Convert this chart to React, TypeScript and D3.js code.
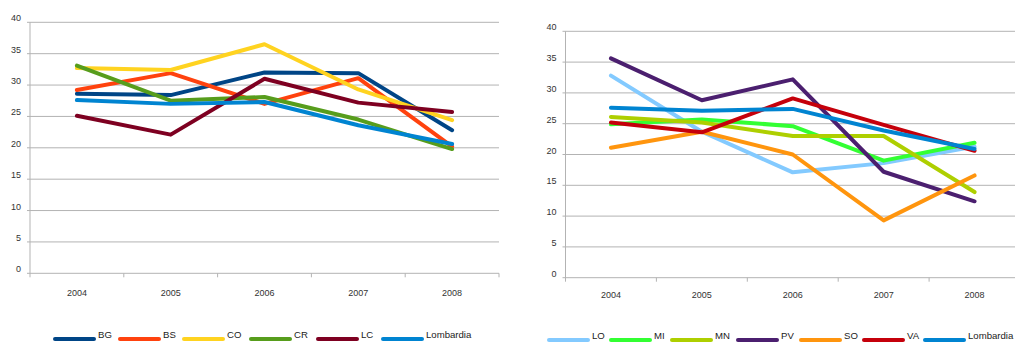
import React from 'react';
import * as d3 from 'd3';

const years = ['2004', '2005', '2006', '2007', '2008'];
const yTicks = [0, 5, 10, 15, 20, 25, 30, 35, 40];

// left panel: provinces of first group
const leftNames = ['BG', 'BS', 'CO', 'CR', 'LC', 'Lombardia'];
const leftColors = ['#004586', '#ff420e', '#ffd320', '#579d1c', '#7e0021', '#0084d1'];
const leftValues = [
  [28.6, 28.4, 32.0, 31.9, 22.8],
  [29.2, 31.9, 27.0, 31.1, 20.2],
  [32.7, 32.4, 36.5, 29.3, 24.4],
  [33.1, 27.5, 28.1, 24.5, 19.8],
  [25.1, 22.1, 31.0, 27.2, 25.7],
  [27.6, 27.0, 27.3, 23.6, 20.6],
];

// right panel: provinces of second group
const rightNames = ['LO', 'MI', 'MN', 'PV', 'SO', 'VA', 'Lombardia'];
const rightColors = ['#83caff', '#33ff33', '#aecf00', '#4b1f6f', '#ff950e', '#c5000b', '#0084d1'];
const rightValues = [
  [32.8, 23.7, 17.1, 18.6, 21.3],
  [24.9, 25.7, 24.6, 19.0, 21.9],
  [26.1, 25.2, 23.0, 23.0, 13.9],
  [35.6, 28.8, 32.2, 17.2, 12.4],
  [21.1, 23.7, 20.0, 9.3, 16.6],
  [25.2, 23.6, 29.1, 24.8, 20.6],
  [27.6, 27.1, 27.4, 23.9, 20.9],
];

const leftLegendX = [55, 120, 184, 251, 318, 383];
const rightLegendX = [549, 611, 672, 738, 801, 864, 925];

type PanelProps = {
  x0: number; x1: number; top: number; bottom: number;
  names: string[]; colors: string[]; values: number[][];
  legendX: number[]; yearY: number; legendY: number;
};

function Panel({ x0, x1, top, bottom, names, colors, values, legendX, yearY, legendY }: PanelProps) {
  const x = d3.scaleBand<string>().domain(years).range([x0, x1]);
  const y = d3.scaleLinear().domain([0, 40]).range([bottom, top]);
  const line = d3.line<number>()
    .x((_, i) => (x(years[i]) as number) + x.bandwidth() / 2)
    .y(d => y(d));
  const font = '"Liberation Sans", Arial, sans-serif';
  return (
    <g>
      {yTicks.map(t => (
        <g key={t}>
          <line x1={x0 - 3} x2={x1} y1={y(t)} y2={y(t)} stroke="#b3b3b3" strokeWidth={1} />
          <text x={x0 - 9} y={y(t) - 1} textAnchor="end" fontSize={9} fill="#333" fontFamily={font}>{t}</text>
        </g>
      ))}
      <line x1={x0} x2={x0} y1={top} y2={bottom + 4} stroke="#b3b3b3" strokeWidth={1} />
      {years.map(yr => (
        <g key={yr}>
          <line x1={(x(yr) as number) + x.bandwidth()} x2={(x(yr) as number) + x.bandwidth()} y1={bottom} y2={bottom + 4} stroke="#b3b3b3" />
          <text x={(x(yr) as number) + x.bandwidth() / 2} y={yearY} textAnchor="middle" fontSize={9} fill="#333" fontFamily={font}>{yr}</text>
        </g>
      ))}
      {values.map((v, i) => (
        <path key={names[i]} d={line(v) as string} fill="none" stroke={colors[i]} strokeWidth={4} strokeLinejoin="round" strokeLinecap="round" />
      ))}
      {names.map((n, i) => (
        <g key={n}>
          <line x1={legendX[i]} x2={legendX[i] + 39} y1={legendY} y2={legendY} stroke={colors[i]} strokeWidth={4} strokeLinecap="round" />
          <text x={legendX[i] + 43} y={legendY - 1} fontSize={9.6} fill="#222" fontFamily={font}>{n}</text>
        </g>
      ))}
    </g>
  );
}

export default function App() {
  return (
    <svg width={1015} height={342} style={{ position: 'absolute', left: 0, top: 0, background: '#fff' }}>
      <Panel x0={30} x1={499} top={22.3} bottom={273.3} names={leftNames} colors={leftColors}
        values={leftValues} legendX={leftLegendX} yearY={296} legendY={339} />
      <Panel x0={565.5} x1={1020} top={31.3} bottom={277.7} names={rightNames} colors={rightColors}
        values={rightValues} legendX={rightLegendX} yearY={298} legendY={340} />
    </svg>
  );
}
